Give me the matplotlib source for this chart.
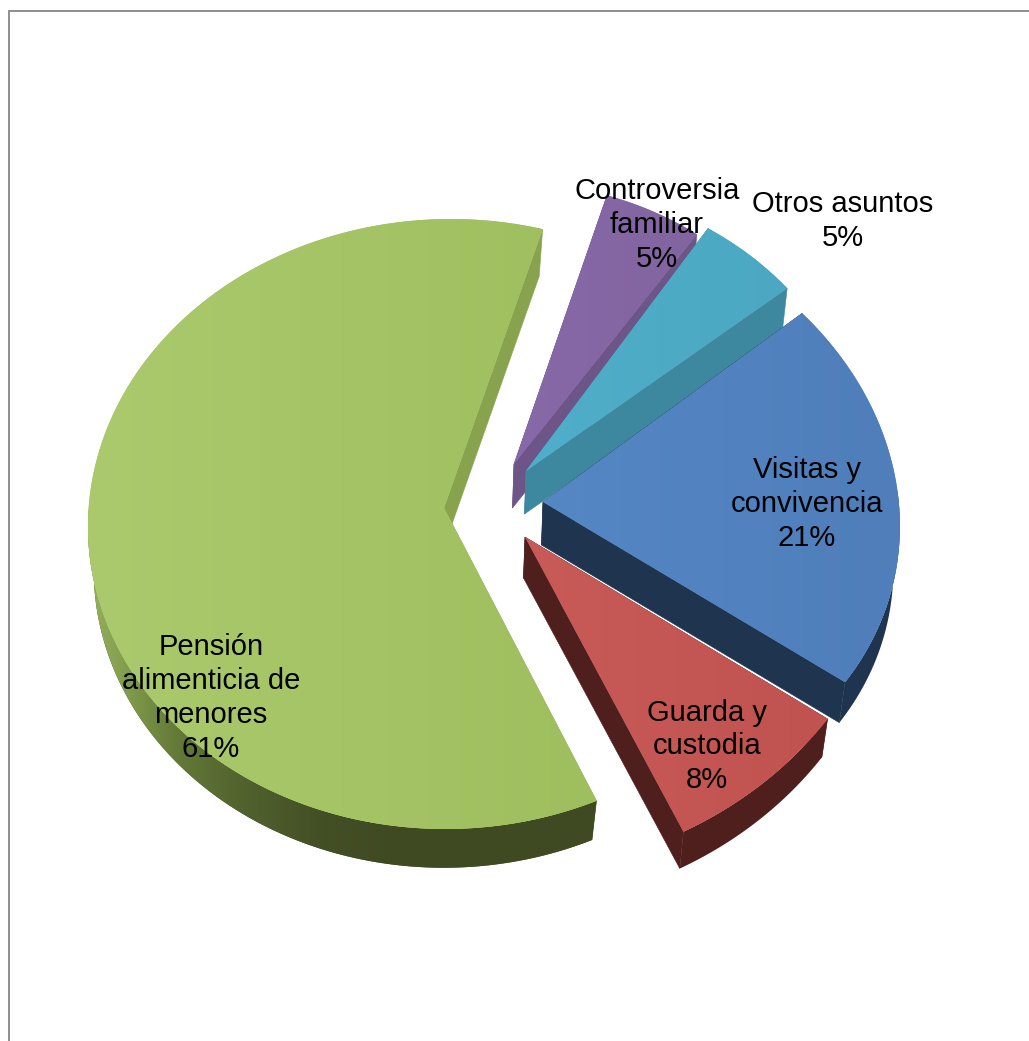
import numpy as np
import matplotlib
matplotlib.use("Agg")
import matplotlib.pyplot as plt
from matplotlib.patches import Polygon

# ---- data ----
categories = ["Pensión\nalimenticia de\nmenores", "Guarda y\ncustodia", "Visitas y\nconvivencia",
              "Otros asuntos", "Controversia\nfamiliar"]
values = [61, 8, 21, 5, 5]

# ---- style ----
top_left = ["#AACA6D", "#C85A57", "#5587C5", "#4FAECA", "#8869A9"]
top_right = ["#9FBE5E", "#C0524F", "#4F7EBA", "#4CA8C2", "#82649F"]
cut_col = ["#87A34E", "#4F1F1E", "#1F344E", "#3D889F", "#6D5588"]
wall_col = ["#3F4A22", "#4F1F1E", "#1F344E", "#3D889F", "#6D5588"]
apex = [(444, 508), (525, 537), (543, 502), (526, 471), (514, 464)]
centre = [(448, 524), (525, 537), (543, 502), (526, 471), (514, 464)]
# ellipse matrix: x = a cos + b sin, y(up) = c cos + d sin
shape = [(360, 4, -1, 305), (375, 0, 19, 334), (356, -25, -3, 301),
         (338, 0, 0, 288), (319, 13, -13, 281)]
depth = [43, 41, 43, 43, 44]
KX = [0.98, 0.986, 0.986, 0.986, 0.986]
KY = 0.986
DX = -1.5
start_angle = 75.4
draw_order = [0, 4, 3, 2, 1]
label_pos = [(211, 698), (707, 746.5), (807, 504), (843, 221), (657, 225)]
FRAME = "#8E8E8E"
# gradient stops of the big slice's outer wall, left to right
wall_stops_x = [95, 130, 175, 240, 320, 400]
wall_stops = ["#93AE5A", "#7F9A4A", "#657A38", "#52632E", "#434F25", "#3F4A22"]

fig = plt.figure(figsize=(10.29, 10.41), dpi=100, facecolor="white")
ax = fig.add_axes([0, 0, 1, 1])
ax.set_axis_off()

total = sum(values)
edges = start_angle + 360 * np.cumsum([0] + values) / total


def rgb(h):
    return np.array(matplotlib.colors.to_rgb(h))


def arc(i, th, kx=1.0, ky=1.0, dx=0.0, dy=0.0):
    a, b, c, d = shape[i]
    t = np.radians(th)
    x = centre[i][0] + dx + kx * (a * np.cos(t) + b * np.sin(t))
    y = centre[i][1] + dy - ky * (c * np.cos(t) + d * np.sin(t))
    return x, y


def fill_gradient(patch, verts, xs, colors):
    lo, hi = verts[:, 0].min(), verts[:, 0].max()
    grid = np.linspace(lo, hi, 512)
    arr = np.column_stack([np.interp(grid, xs, [rgb(c)[n] for c in colors]) for n in range(3)])[None, :, :]
    im = ax.imshow(arr, extent=(lo, hi, verts[:, 1].max(), verts[:, 1].min()),
                   aspect="auto", interpolation="bilinear", zorder=1)
    im.set_clip_path(patch)


for i in draw_order:
    t1, t2 = edges[i], edges[i + 1]
    th = np.linspace(t1, t2, 240)
    x, y = arc(i, th)
    xl, yl = arc(i, th, KX[i], KY, DX, depth[i])
    A = np.array(apex[i], float)
    Al = A + (DX, depth[i])

    # cut faces
    for j in (0, -1):
        ax.add_patch(Polygon([A, (x[j], y[j]), (xl[j], yl[j]), Al], closed=True,
                             fc=cut_col[i], ec=cut_col[i], lw=0.4, zorder=1))
    # outer wall: only the part that faces the viewer
    front = np.sin(np.radians(th)) < 0.05
    if front.any():
        wall = np.vstack([np.column_stack([x[front], y[front]]),
                          np.column_stack([xl[front], yl[front]])[::-1]])
        wp = Polygon(wall, closed=True, fc=wall_col[i], ec="none", zorder=1)
        ax.add_patch(wp)
        if i == 0:
            fill_gradient(wp, wall, wall_stops_x, wall_stops)

    # top face
    verts = np.vstack([A, np.column_stack([x, y])])
    face = Polygon(verts, closed=True, fc=top_left[i], ec="none", zorder=1)
    ax.add_patch(face)
    fill_gradient(face, verts, [verts[:, 0].min(), verts[:, 0].max()], [top_left[i], top_right[i]])

# frame
ax.plot([8.7, 8.7], [1041, 11], color=FRAME, lw=1.4, solid_capstyle="butt", zorder=3)
ax.plot([8, 1029], [11, 11], color=FRAME, lw=1.4, solid_capstyle="butt", zorder=3)

# labels
for name, v, (lx, ly) in zip(categories, values, label_pos):
    ax.text(lx, ly, f"{name}\n{v}%", ha="center", va="center", ma="center",
            family=["Liberation Sans", "DejaVu Sans"], fontsize=21, linespacing=1.27,
            color="black", zorder=5)

ax.set_xlim(0, 1029)
ax.set_ylim(1041, 0)
fig.savefig("out.png", dpi=100, facecolor="white")
